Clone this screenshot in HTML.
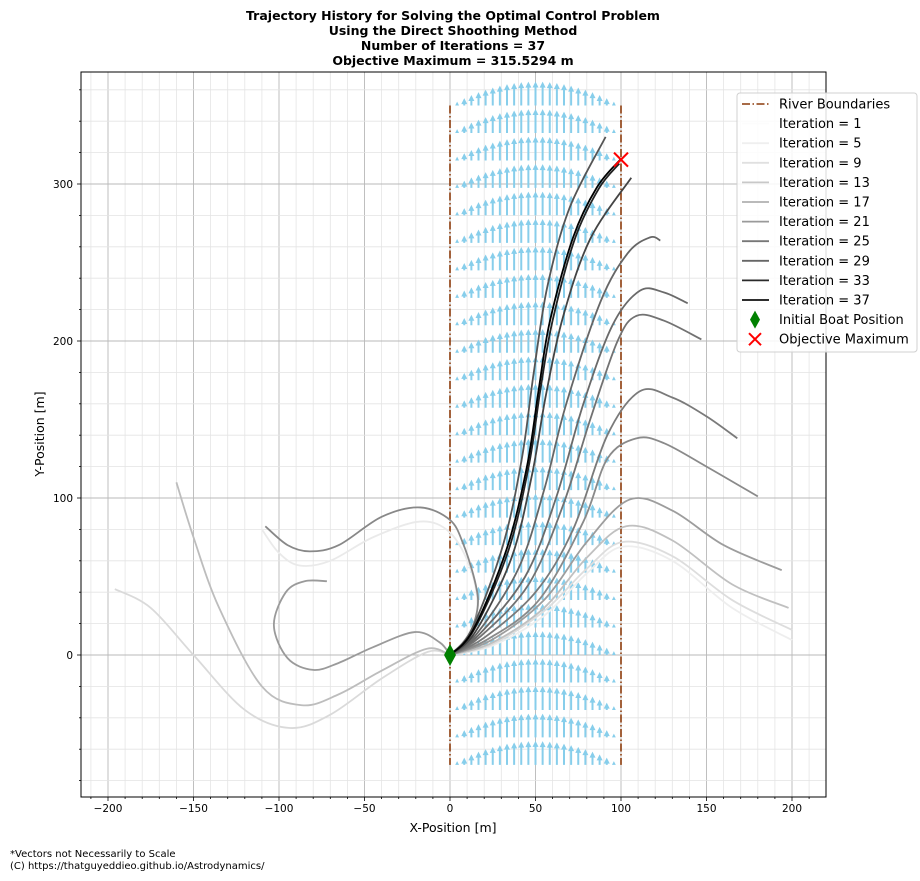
<!DOCTYPE html>
<html><head><meta charset="utf-8"><style>
html,body{margin:0;padding:0;background:#fff;}
svg{display:block;font-family:"DejaVu Sans","Liberation Sans",sans-serif;}
</style></head><body>
<svg id="chart" width="920" height="881" viewBox="0 0 920 881" xmlns="http://www.w3.org/2000/svg">
<rect width="920" height="881" fill="#fff"/>
<g font-weight="bold" font-size="12.5" text-anchor="middle" fill="#000">
<text x="453" y="20">Trajectory History for Solving the Optimal Control Problem</text>
<text x="453" y="35">Using the Direct Shoothing Method</text>
<text x="453" y="50">Number of Iterations = 37</text>
<text x="453" y="65">Objective Maximum = 315.5294 m</text>
</g>
<g id="grid"></g>
<g id="quiver"></g>
<g id="river"></g>
<g id="curves"></g>
<g id="marks"></g>
<rect x="81" y="72" width="745" height="725" fill="none" stroke="#000" stroke-width="1"/>
<g id="ticks" font-size="10.5" fill="#000"></g>
<text x="453" y="832" font-size="12.5" text-anchor="middle">X-Position [m]</text>
<text x="44" y="434" font-size="12.5" text-anchor="middle" transform="rotate(-90 44 434)">Y-Position [m]</text>
<g id="legend"></g>
<g font-size="10" fill="#000">
<text x="10" y="857">*Vectors not Necessarily to Scale</text>
<text x="10" y="869">(C) https://thatguyeddieo.github.io/Astrodynamics/</text>
</g>
</svg>
<script>
const xTicks=[-200,-150,-100,-50,0,50,100,150,200];
const yTicks=[0,100,200,300];
const traj37=[[0,0],[13.5,16],[33,67],[45,120],[52,170],[58.5,213],[72,266],[86,298],[100,316]];
const traj33=[[0,0],[14,16],[34,66],[46,120],[53,170],[60,213],[73,265],[87,297],[99,313]];
const trajK=[[0,0],[13,17],[31,70],[42,125],[49,180],[57,235],[70,285],[91,330]];
const trajJ=[[0,0],[15,15],[36,62],[48,115],[56,165],[66,215],[82,265],[106,304]];
const trajI=[[0,0],[16,14],[40,55],[55,105],[68,160],[88,225],[104,256],[117,266],[123,264]];
const trajH=[[0,0],[17,13],[44,50],[62,100],[78,160],[95,210],[111,232],[125,231],[139,224]];
const trajG=[[0,0],[18,12],[46,45],[66,95],[82,150],[98,200],[109,216],[125,213],[147,201]];
const trajF=[[0,0],[20,11],[50,40],[72,80],[92,140],[111,168],[130,164],[150,152],[168,138]];
const trajE=[[0,0],[22,10],[52,35],[78,85],[92,125],[109,138],[125,135],[150,120],[180,101]];
const trajD=[[0,0],[25,10],[55,35],[80,72],[105,99],[130,92],[160,70],[194,54]];
const trajC=[[0,0],[25,8],[55,30],[80,62],[103,82],[130,73],[165,45],[198,30]];
const trajB=[[0,0],[25,7],[55,28],[80,55],[101,72],[130,63],[165,35],[200,16]];
const trajA=[[0,0],[25,6],[55,25],[80,52],[101,69],[130,60],[165,30],[200,9.5]];
const trajL1=[[0,0],[-13,2],[-40,-15],[-70,-38],[-93.6,-46.5],[-120,-35],[-150,0],[-175,30],[-196,42]];
const trajL2=[[0,0],[-13.5,4],[-40,-10],[-65,-25],[-86.5,-32],[-110,-20],[-135,30],[-150,75],[-160,110]];
const trajL3=[[0,0],[-6,8],[-20.5,14.6],[-45,5],[-65,-5],[-80,-9.5],[-95,-2],[-103,19],[-96,40],[-85,47],[-72,47]];
const trajL4=[[0,0],[10,10],[16,29],[15,45],[8,70],[0,86],[-17.5,94],[-40,88],[-65,70],[-82,66],[-95,70],[-108,82]];
const trajL5=[[0,0],[10,12],[16,30],[12,55],[0,78],[-17.5,85],[-45,75],[-70,60],[-88,57],[-100,65],[-110,80]];
const legendLabels=["Iteration = 1","Iteration = 5","Iteration = 9","Iteration = 13","Iteration = 17","Iteration = 21","Iteration = 25","Iteration = 29","Iteration = 33","Iteration = 37"];
const riverX=[0,100];
const riverY=[-70,350];
const currentMax=[1];
const objective=[100,315.5294];

const NS="http://www.w3.org/2000/svg";
const X=v=>450+v*1.71, Y=v=>655-v*1.57;
function mk(tag,attrs,parent){const e=document.createElementNS(NS,tag);for(const k in attrs)e.setAttribute(k,attrs[k]);parent.appendChild(e);return e;}
const grid=document.getElementById('grid');
for(let v=-210;v<=210;v+=10){const major=v%50===0;const l=mk('line',{x1:X(v),x2:X(v),y1:72,y2:797,stroke:major?'#b8b8b8':'#e4e4e4','stroke-width':major?0.9:0.8},grid);

}
for(let v=-80;v<=360;v+=20){const major=v%100===0;const l=mk('line',{x1:81,x2:826,y1:Y(v),y2:Y(v),stroke:major?'#b8b8b8':'#e4e4e4','stroke-width':major?0.9:0.8},grid);

}
const ticks=document.getElementById('ticks');
for(let v=-210;v<=210;v+=10){const major=v%50===0;mk('line',{x1:X(v),x2:X(v),y1:797,y2:797+(major?4:2),stroke:'#000','stroke-width':0.8},ticks);}
for(let v=-80;v<=360;v+=20){const major=v%100===0;mk('line',{x1:81,x2:81-(major?4:2),y1:Y(v),y2:Y(v),stroke:'#000','stroke-width':0.8},ticks);}
xTicks.forEach(v=>{const t=mk('text',{x:X(v),y:812,'text-anchor':'middle'},ticks);t.textContent=(v<0?'\u2212'+(-v):v);

});
yTicks.forEach(v=>{const t=mk('text',{x:73,y:Y(v)+4,'text-anchor':'end'},ticks);t.textContent=v;

});
const q=document.getElementById('quiver');
for(let i=0;i<25;i++){const xv=i*100/24;const sp=currentMax[0]*4*xv*(100-xv)/1e4;const L=sp*24;if(L<0.5)continue;
 for(let j=0;j<25;j++){const yv=riverY[0]+j*(riverY[1]-riverY[0])/24;const px=X(xv),py=Y(yv);
  let hl=6,hw=3,sw=1;if(L<hl){const s=L/hl;hl*=s;hw*=s;}
  const pts=[[px-sw,py],[px-sw,py-L+hl],[px-hw,py-L+hl],[px,py-L],[px+hw,py-L+hl],[px+sw,py-L+hl],[px+sw,py]];
  const a=mk('polygon',{points:pts.map(p=>p.join(',')).join(' '),fill:'#87ceeb'},q);
  
  }}
const rv=document.getElementById('river');
riverX.forEach(xv=>{const l=mk('line',{x1:X(xv),x2:X(xv),y1:Y(riverY[1]),y2:Y(riverY[0]),stroke:'#8b3a0a','stroke-width':1.6,'stroke-dasharray':'8,2.5,1.5,2.5'},rv);

});
function pathD(pts){const P=pts.map(p=>[X(p[0]),Y(p[1])]);let d='M'+P[0].join(',');
 for(let i=0;i<P.length-1;i++){const p0=P[Math.max(0,i-1)],p1=P[i],p2=P[i+1],p3=P[Math.min(P.length-1,i+2)];
  const c1=[p1[0]+(p2[0]-p0[0])/6,p1[1]+(p2[1]-p0[1])/6],c2=[p2[0]-(p3[0]-p1[0])/6,p2[1]-(p3[1]-p1[1])/6];
  d+=' C'+c1.join(',')+' '+c2.join(',')+' '+p2.join(',');}return d;}
const cg=document.getElementById('curves');
const series=[[trajA,'#eeeeee'],[trajL5,'#eaeaea'],[trajB,'#dddddd'],[trajL1,'#dadada'],[trajC,'#c0c0c0'],[trajL2,'#bdbdbd'],[trajD,'#9d9d9d'],[trajL3,'#9a9a9a'],[trajL4,'#888888'],[trajE,'#8a8a8a'],[trajF,'#7a7a7a'],[trajG,'#727272'],[trajH,'#6a6a6a'],[trajI,'#666666'],[trajK,'#555555'],[trajJ,'#444444'],[traj33,'#222222'],[traj37,'#000000']];
series.forEach(s=>{const p=mk('path',{d:pathD(s[0]),fill:'none',stroke:s[1],'stroke-width':1.8},cg);

});
const mg=document.getElementById('marks');
const d0=mk('polygon',{points:`${X(0)},${Y(0)-11} ${X(0)+6},${Y(0)} ${X(0)},${Y(0)+11} ${X(0)-6},${Y(0)}`,fill:'#008000'},mg);


const ox=X(objective[0]),oy=Y(objective[1]);
const xm=mk('path',{d:`M${ox-7},${oy-7}L${ox+7},${oy+7}M${ox-7},${oy+7}L${ox+7},${oy-7}`,stroke:'#ff0000','stroke-width':2},mg);


const lg=document.getElementById('legend');
mk('rect',{x:737,y:93,width:180,height:259,rx:3,fill:'#fff','fill-opacity':0.85,stroke:'#d0d0d0'},lg);
const legColors=['#fcfcfc','#efefef','#e0e0e0','#c8c8c8','#b0b0b0','#9a9a9a','#777777','#666666','#2a2a2a','#111111'];
let ly=104;
mk('line',{x1:742,x2:769,y1:ly,y2:ly,stroke:'#8b3a0a','stroke-width':1.6,'stroke-dasharray':'8,2.5,1.5,2.5'},lg);
const rt=mk('text',{x:779,y:ly+4.5,'font-size':13},lg);rt.textContent='River Boundaries';


legendLabels.forEach((lab,i)=>{const yy=ly+19.6*(i+1);mk('line',{x1:742,x2:769,y1:yy,y2:yy,stroke:legColors[i],'stroke-width':1.8},lg);
 const t=mk('text',{x:779,y:yy+4.5,'font-size':13},lg);t.textContent=lab;
 
 });
let yy=ly+19.6*11;
mk('polygon',{points:`755,${yy-9} 760,${yy} 755,${yy+9} 750,${yy}`,fill:'#008000'},lg);
let t1=mk('text',{x:779,y:yy+4.5,'font-size':13},lg);t1.textContent='Initial Boat Position';


yy=ly+19.6*12;
mk('path',{d:`M749,${yy-6}L761,${yy+6}M749,${yy+6}L761,${yy-6}`,stroke:'#ff0000','stroke-width':2},lg);
let t2=mk('text',{x:779,y:yy+4.5,'font-size':13},lg);t2.textContent='Objective Maximum';


</script>
</body></html>
